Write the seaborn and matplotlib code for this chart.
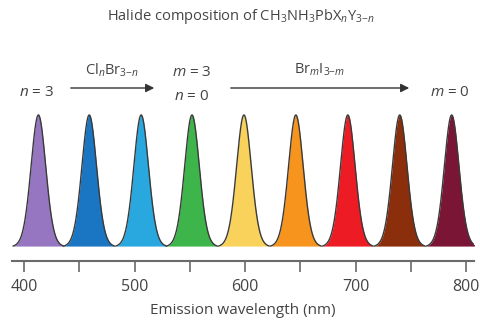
import numpy as np
import pandas as pd
import matplotlib
matplotlib.use("Agg")
import matplotlib.pyplot as plt
import seaborn as sns

# peak positions (nm) of the nine perovskite compositions
centers = [413, 459, 506, 552, 599, 646, 693, 740, 787]
colors = ["#9676C0", "#1A75C2", "#29A8E0", "#3DB54A", "#F9D25C",
          "#F7941D", "#ED1C24", "#8B2E0C", "#7B1535"]
sigma = 6.8
ticks = [400, 450, 500, 550, 600, 650, 700, 750, 800]
tick_labels = ["400", "", "500", "", "600", "", "700", "", "800"]

rows = []
for i, c in enumerate(centers):
    x = np.linspace(c - 23, c + 23, 200)
    # slightly heavy-tailed band shape (gauss + a bit of lorentz)
    g = np.exp(-0.5 * ((x - c) / sigma) ** 2)
    l = 1 / (1 + ((x - c) / (1.15 * sigma)) ** 2)
    y = 0.85 * g + 0.15 * l
    y = (y - y.min()) / (y.max() - y.min())
    for xx, yy in zip(x, y):
        rows.append((i, xx, yy))
df = pd.DataFrame(rows, columns=["peak", "wavelength", "intensity"])

sns.set_style("white")
plt.rcParams["font.family"] = ["Open Sans", "DejaVu Sans"]
plt.rcParams["mathtext.fontset"] = "custom"
plt.rcParams["mathtext.rm"] = "Open Sans"
plt.rcParams["mathtext.it"] = "Open Sans:italic"

fig = plt.figure(figsize=(4.81, 3.31), dpi=100)
ax = fig.add_axes([12 / 481, (331 - 260.5) / 331, 462 / 481, 150.5 / 331])

for i, c in enumerate(centers):
    d = df[df.peak == i]
    ax.fill_between(d.wavelength, 0, d.intensity, color=colors[i], lw=0)
sns.lineplot(data=df, x="wavelength", y="intensity", units="peak",
             estimator=None, color="#3a3a3a", lw=1.0, ax=ax, legend=False)

ax.set_xlim(389.1, 807.2)
ax.set_ylim(-0.11, 1.038)
ax.set_yticks([])
ax.set_ylabel("")
ax.set_xticks(ticks)
ax.set_xticklabels(tick_labels)
for s in ["top", "left", "right"]:
    ax.spines[s].set_visible(False)
ax.spines["bottom"].set_color("#6a6a6a")
ax.spines["bottom"].set_linewidth(1.5)
ax.tick_params(axis="x", direction="out", length=8, width=1.2, color="#6a6a6a",
               labelsize=11.5, labelcolor="#444444", pad=5, bottom=True)
ax.set_xlabel("Emission wavelength (nm)", fontsize=11, color="#444444", labelpad=6)

tc = "#444444"
fig.text(0.5, 1 - 16 / 331, r"Halide composition of CH$_3$NH$_3$PbX$_n$Y$_{3\mathrm{-}n}$",
         ha="center", va="center", fontsize=10.5, color=tc)
fig.text(37 / 481, 1 - 92 / 331, r"$n$ = 3", ha="center", va="center", fontsize=11, color=tc)
fig.text(112 / 481, 1 - 70 / 331, r"Cl$_n$Br$_{3\mathrm{-}n}$", ha="center", va="center", fontsize=10.5, color=tc)
fig.text(192 / 481, 1 - 72 / 331, r"$m$ = 3", ha="center", va="center", fontsize=11, color=tc)
fig.text(192 / 481, 1 - 96 / 331, r"$n$ = 0", ha="center", va="center", fontsize=11, color=tc)
fig.text(320 / 481, 1 - 70 / 331, r"Br$_m$I$_{3\mathrm{-}m}$", ha="center", va="center", fontsize=10.5, color=tc)
fig.text(450 / 481, 1 - 92 / 331, r"$m$ = 0", ha="center", va="center", fontsize=11, color=tc)
for x0, x1 in [(68, 157), (228, 412)]:
    fig.add_artist(matplotlib.patches.FancyArrowPatch(
        (x0 / 481, 1 - 88 / 331), (x1 / 481, 1 - 88 / 331), transform=fig.transFigure,
        arrowstyle="-|>,head_length=5,head_width=2.5", color="#333333", lw=1.0))

fig.savefig("out.png", dpi=100)
